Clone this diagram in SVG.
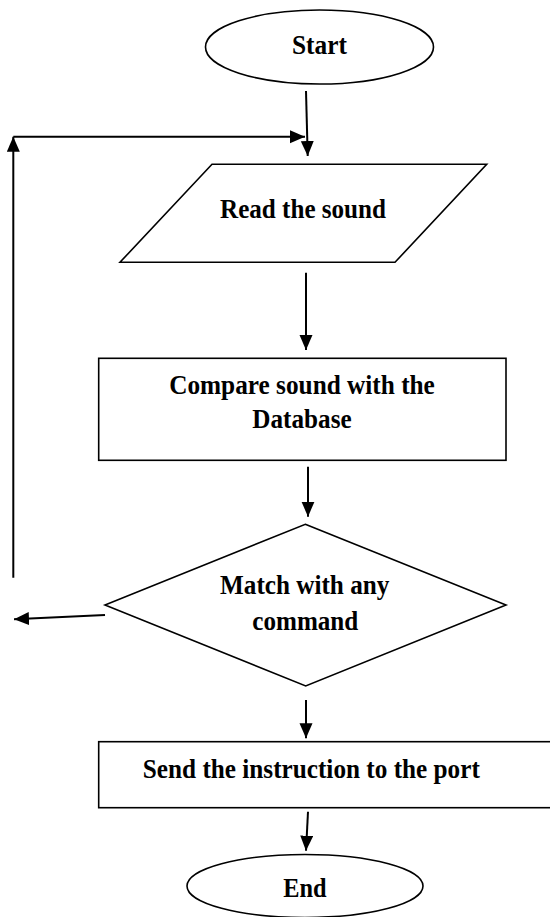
<svg xmlns="http://www.w3.org/2000/svg" width="550" height="917" viewBox="0 0 550 917">
<style>
.shape{fill:#fff;stroke:#000;stroke-width:1.6}
.lbl{font-family:"Liberation Serif","Times New Roman",serif;font-weight:bold;font-size:27.5px;fill:#000;text-anchor:middle}
.conn{stroke:#000;stroke-width:2;fill:none}
</style>
<defs>
<marker id="ah" markerUnits="userSpaceOnUse" markerWidth="16" markerHeight="14" refX="15" refY="6.5" orient="auto">
<path d="M0,0 L15,6.5 L0,13 Z" fill="#000"/>
</marker>
</defs>
<rect width="550" height="917" fill="#fff"/>
<g id="start">
<ellipse class="shape" cx="319.5" cy="47" rx="114" ry="37"/>
<text class="lbl" x="319.5" y="54" textLength="55" lengthAdjust="spacingAndGlyphs">Start</text>
</g>
<g id="read">
<polygon class="shape" points="212,164.3 486.7,164.3 395,262.3 120,262.3"/>
<text class="lbl" x="303" y="218" textLength="166" lengthAdjust="spacingAndGlyphs">Read the sound</text>
</g>
<g id="compare">
<rect class="shape" x="98.7" y="358.3" width="407.3" height="102"/>
<text class="lbl" x="302" y="394.3" textLength="265.7" lengthAdjust="spacingAndGlyphs">Compare sound with the</text>
<text class="lbl" x="302" y="428.3" textLength="99.3" lengthAdjust="spacingAndGlyphs">Database</text>
</g>
<g id="match">
<polygon class="shape" points="305.3,524.3 506,605 305.7,686 105,605"/>
<text class="lbl" x="304.7" y="594.3" textLength="169.3" lengthAdjust="spacingAndGlyphs">Match with any</text>
<text class="lbl" x="305.3" y="630" textLength="106" lengthAdjust="spacingAndGlyphs">command</text>
</g>
<g id="send">
<rect class="shape" x="98.7" y="741.7" width="460" height="66"/>
<text class="lbl" x="311.3" y="778.3" textLength="337" lengthAdjust="spacingAndGlyphs">Send the instruction to the port</text>
</g>
<g id="end">
<ellipse class="shape" cx="305" cy="886" rx="118" ry="31.5"/>
<text class="lbl" x="305" y="896.7" textLength="43.3" lengthAdjust="spacingAndGlyphs">End</text>
</g>
<g id="connectors">
<line class="conn" x1="306" y1="91" x2="307.7" y2="156" marker-end="url(#ah)"/>
<polyline class="conn" points="13.3,577.7 13.3,136.7" marker-end="url(#ah)"/>
<line class="conn" x1="13.3" y1="136.7" x2="305" y2="136.7" marker-end="url(#ah)"/>
<line class="conn" x1="306" y1="272.7" x2="306" y2="350" marker-end="url(#ah)"/>
<line class="conn" x1="308" y1="466.7" x2="308" y2="516.7" marker-end="url(#ah)"/>
<line class="conn" x1="105" y1="615" x2="14" y2="619.3" marker-end="url(#ah)"/>
<line class="conn" x1="306" y1="700" x2="306" y2="738.3" marker-end="url(#ah)"/>
<line class="conn" x1="308" y1="811.7" x2="306" y2="850.7" marker-end="url(#ah)"/>
</g>
</svg>
